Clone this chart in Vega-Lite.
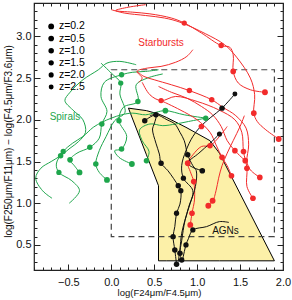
{
"$schema": "https://vega.github.io/schema/vega-lite/v6.json",
"width": 249, "height": 267,
"autosize": {"type": "none"},
"padding": {"left": 34, "top": 3, "right": 9, "bottom": 30},
"background": "white",
"config": {"view": {"stroke": "#222", "strokeWidth": 1.2}, "font": "Liberation Sans", "axis": {"labelFont": "Liberation Sans", "titleFont": "Liberation Sans"}},
"datasets": {
"poly": [{"x":0.20,"lo":2.14,"hi":2.14},{"x":0.41,"lo":1.58,"hi":2.11},{"x":0.55,"lo":1.21,"hi":2.07},{"x":0.5501,"lo":0.31,"hi":2.07},{"x":0.64,"lo":0.31,"hi":2.03},{"x":0.87,"lo":0.31,"hi":1.91},{"x":1.15,"lo":0.31,"hi":1.75},{"x":1.26,"lo":0.31,"hi":1.60},{"x":1.90,"lo":0.31,"hi":0.31}],
"box": [{"x":0,"x2":1.9,"y":0.6,"y2":2.6}],
"tracks": [
{"t":"g1","k":"sp","i":0,"x":-0.69,"y":1.06},{"t":"g1","k":"sp","i":1,"x":-0.80,"y":1.15},{"t":"g1","k":"sp","i":2,"x":-0.88,"y":1.30},{"t":"g1","k":"sp","i":3,"x":-0.82,"y":1.42},{"t":"g1","k":"sp","i":4,"x":-0.70,"y":1.50},{"t":"g1","k":"sp","i":5,"x":-0.59,"y":1.57},{"t":"g1","k":"sp","i":6,"x":-0.48,"y":1.66},{"t":"g1","k":"sp","i":7,"x":-0.38,"y":1.74},{"t":"g1","k":"sp","i":8,"x":-0.30,"y":1.85},{"t":"g1","k":"sp","i":9,"x":-0.33,"y":2.00},{"t":"g1","k":"sp","i":10,"x":-0.45,"y":2.12},{"t":"g1","k":"sp","i":11,"x":-0.54,"y":2.23},{"t":"g1","k":"sp","i":12,"x":-0.48,"y":2.33},{"t":"g1","k":"sp","i":13,"x":-0.33,"y":2.48},{"t":"g1","k":"sp","i":14,"x":-0.15,"y":2.60},{"t":"g1","k":"sp","i":15,"x":-0.05,"y":2.68},{"t":"g1","k":"sp","i":16,"x":0.10,"y":2.70},{"t":"g1","k":"sp","i":17,"x":0.29,"y":2.66},
{"t":"g2","k":"sp","i":0,"x":-0.49,"y":1.00},{"t":"g2","k":"sp","i":1,"x":-0.37,"y":1.15},{"t":"g2","k":"sp","i":2,"x":-0.46,"y":1.27},{"t":"g2","k":"sp","i":3,"x":-0.61,"y":1.37},{"t":"g2","k":"sp","i":4,"x":-0.64,"y":1.47},{"t":"g2","k":"sp","i":5,"x":-0.56,"y":1.62},{"t":"g2","k":"sp","i":6,"x":-0.45,"y":1.72},{"t":"g2","k":"sp","i":7,"x":-0.33,"y":1.80},{"t":"g2","k":"sp","i":8,"x":-0.21,"y":1.91},{"t":"g2","k":"sp","i":9,"x":-0.11,"y":1.97},{"t":"g2","k":"sp","i":10,"x":0.00,"y":2.02},{"t":"g2","k":"sp","i":11,"x":0.12,"y":2.06},{"t":"g2","k":"sp","i":12,"x":0.25,"y":2.08},{"t":"g2","k":"sp","i":13,"x":0.40,"y":2.06},{"t":"g2","k":"sp","i":14,"x":0.52,"y":2.09},{"t":"g2","k":"sp","i":15,"x":0.63,"y":2.11},{"t":"g2","k":"sp","i":16,"x":0.85,"y":2.06},{"t":"g2","k":"sp","i":17,"x":1.10,"y":2.02},
{"t":"g3","k":"sp","i":0,"x":-0.37,"y":1.37},{"t":"g3","k":"sp","i":1,"x":-0.43,"y":1.45},{"t":"g3","k":"sp","i":2,"x":-0.48,"y":1.52},{"t":"g3","k":"sp","i":3,"x":-0.40,"y":1.60},{"t":"g3","k":"sp","i":4,"x":-0.25,"y":1.67},{"t":"g3","k":"sp","i":5,"x":-0.14,"y":1.78},{"t":"g3","k":"sp","i":6,"x":-0.11,"y":1.95},{"t":"g3","k":"sp","i":7,"x":-0.05,"y":2.10},{"t":"g3","k":"sp","i":8,"x":-0.12,"y":2.28},{"t":"g3","k":"sp","i":9,"x":-0.08,"y":2.45},{"t":"g3","k":"sp","i":10,"x":0.12,"y":2.54},{"t":"g3","k":"sp","i":11,"x":0.25,"y":2.57},{"t":"g3","k":"sp","i":12,"x":0.40,"y":2.58},{"t":"g3","k":"sp","i":13,"x":0.55,"y":2.60},
{"t":"g4","k":"sp","i":0,"x":-0.05,"y":1.28},{"t":"g4","k":"sp","i":1,"x":-0.14,"y":1.37},{"t":"g4","k":"sp","i":2,"x":-0.18,"y":1.47},{"t":"g4","k":"sp","i":3,"x":-0.14,"y":1.63},{"t":"g4","k":"sp","i":4,"x":-0.06,"y":1.80},{"t":"g4","k":"sp","i":5,"x":0.04,"y":1.99},{"t":"g4","k":"sp","i":6,"x":0.16,"y":2.09},{"t":"g4","k":"sp","i":7,"x":0.10,"y":2.31},{"t":"g4","k":"sp","i":8,"x":0.11,"y":2.44},{"t":"g4","k":"sp","i":9,"x":0.00,"y":2.56},{"t":"g4","k":"sp","i":10,"x":-0.12,"y":2.68},
{"t":"g5","k":"sp","i":0,"x":0.24,"y":1.47},{"t":"g5","k":"sp","i":1,"x":0.09,"y":1.55},{"t":"g5","k":"sp","i":2,"x":0.04,"y":1.63},{"t":"g5","k":"sp","i":3,"x":0.12,"y":1.65},{"t":"g5","k":"sp","i":4,"x":0.18,"y":1.80},{"t":"g5","k":"sp","i":5,"x":0.09,"y":1.99},{"t":"g5","k":"sp","i":6,"x":0.14,"y":2.15},{"t":"g5","k":"sp","i":7,"x":0.31,"y":2.22},{"t":"g5","k":"sp","i":8,"x":0.29,"y":2.42},{"t":"g5","k":"sp","i":9,"x":0.42,"y":2.50},{"t":"g5","k":"sp","i":10,"x":0.60,"y":2.55},
{"t":"g6","k":"sp","i":0,"x":0.41,"y":1.51},{"t":"g6","k":"sp","i":1,"x":0.44,"y":1.62},{"t":"g6","k":"sp","i":2,"x":0.36,"y":1.75},{"t":"g6","k":"sp","i":3,"x":0.33,"y":1.88},{"t":"g6","k":"sp","i":4,"x":0.45,"y":1.95},{"t":"g6","k":"sp","i":5,"x":0.60,"y":1.93},{"t":"g6","k":"sp","i":6,"x":0.75,"y":1.95},{"t":"g6","k":"sp","i":7,"x":0.90,"y":1.98},{"t":"g6","k":"sp","i":8,"x":1.10,"y":2.02},
{"t":"r1","k":"sb","i":0,"x":1.79,"y":2.33},{"t":"r1","k":"sb","i":1,"x":1.62,"y":2.36},{"t":"r1","k":"sb","i":2,"x":1.48,"y":2.44},{"t":"r1","k":"sb","i":3,"x":1.42,"y":2.58},{"t":"r1","k":"sb","i":4,"x":1.42,"y":2.78},{"t":"r1","k":"sb","i":5,"x":1.38,"y":2.87},{"t":"r1","k":"sb","i":6,"x":1.28,"y":2.89},{"t":"r1","k":"sb","i":7,"x":1.05,"y":3.04},{"t":"r1","k":"sb","i":8,"x":0.85,"y":3.16},{"t":"r1","k":"sb","i":9,"x":0.70,"y":3.22},{"t":"r1","k":"sb","i":10,"x":0.45,"y":3.27},{"t":"r1","k":"sb","i":11,"x":0.25,"y":3.29},{"t":"r1","k":"sb","i":12,"x":0.05,"y":3.31},{"t":"r1","k":"sb","i":13,"x":0.20,"y":3.35},{"t":"r1","k":"sb","i":14,"x":0.40,"y":3.38},
{"t":"r2","k":"sb","i":0,"x":1.95,"y":1.77},{"t":"r2","k":"sb","i":1,"x":1.80,"y":1.88},{"t":"r2","k":"sb","i":2,"x":1.70,"y":1.98},{"t":"r2","k":"sb","i":3,"x":1.66,"y":2.08},{"t":"r2","k":"sb","i":4,"x":1.67,"y":2.30},{"t":"r2","k":"sb","i":5,"x":1.62,"y":2.50},{"t":"r2","k":"sb","i":6,"x":1.46,"y":2.75},{"t":"r2","k":"sb","i":7,"x":1.32,"y":2.90},{"t":"r2","k":"sb","i":8,"x":1.10,"y":3.03},{"t":"r2","k":"sb","i":9,"x":0.80,"y":3.17},{"t":"r2","k":"sb","i":10,"x":0.62,"y":3.22},{"t":"r2","k":"sb","i":11,"x":0.40,"y":3.25},{"t":"r2","k":"sb","i":12,"x":0.15,"y":3.28},{"t":"r2","k":"sb","i":13,"x":0.00,"y":3.32},
{"t":"r3","k":"sb","i":0,"x":0.95,"y":2.84},{"t":"r3","k":"sb","i":1,"x":0.88,"y":2.76},{"t":"r3","k":"sb","i":2,"x":0.75,"y":2.69},{"t":"r3","k":"sb","i":3,"x":0.58,"y":2.64},{"t":"r3","k":"sb","i":4,"x":0.42,"y":2.62},{"t":"r3","k":"sb","i":5,"x":0.30,"y":2.58},{"t":"r3","k":"sb","i":6,"x":0.36,"y":2.50},{"t":"r3","k":"sb","i":7,"x":0.32,"y":2.45},
{"t":"r4","k":"sb","i":0,"x":1.73,"y":1.31},{"t":"r4","k":"sb","i":1,"x":1.62,"y":1.40},{"t":"r4","k":"sb","i":2,"x":1.58,"y":1.50},{"t":"r4","k":"sb","i":3,"x":1.60,"y":1.70},{"t":"r4","k":"sb","i":4,"x":1.57,"y":1.90},{"t":"r4","k":"sb","i":5,"x":1.45,"y":2.05},{"t":"r4","k":"sb","i":6,"x":1.30,"y":2.15},{"t":"r4","k":"sb","i":7,"x":1.17,"y":2.24},{"t":"r4","k":"sb","i":8,"x":0.91,"y":2.35},{"t":"r4","k":"sb","i":9,"x":0.70,"y":2.42},{"t":"r4","k":"sb","i":10,"x":0.50,"y":2.48},{"t":"r4","k":"sb","i":11,"x":0.38,"y":2.52},{"t":"r4","k":"sb","i":12,"x":0.30,"y":2.58},
{"t":"r5","k":"sb","i":0,"x":1.65,"y":1.06},{"t":"r5","k":"sb","i":1,"x":1.58,"y":1.20},{"t":"r5","k":"sb","i":2,"x":1.58,"y":1.42},{"t":"r5","k":"sb","i":3,"x":1.54,"y":1.62},{"t":"r5","k":"sb","i":4,"x":1.52,"y":1.85},{"t":"r5","k":"sb","i":5,"x":1.44,"y":2.00},{"t":"r5","k":"sb","i":6,"x":1.25,"y":2.12},{"t":"r5","k":"sb","i":7,"x":1.00,"y":2.22},{"t":"r5","k":"sb","i":8,"x":0.75,"y":2.28},{"t":"r5","k":"sb","i":9,"x":0.58,"y":2.23},{"t":"r5","k":"sb","i":10,"x":0.45,"y":2.30},{"t":"r5","k":"sb","i":11,"x":0.36,"y":2.45},
{"t":"r6","k":"sb","i":0,"x":1.40,"y":1.33},{"t":"r6","k":"sb","i":1,"x":1.35,"y":1.45},{"t":"r6","k":"sb","i":2,"x":1.29,"y":1.55},{"t":"r6","k":"sb","i":3,"x":1.22,"y":1.70},{"t":"r6","k":"sb","i":4,"x":1.15,"y":1.85},{"t":"r6","k":"sb","i":5,"x":1.00,"y":2.00},{"t":"r6","k":"sb","i":6,"x":0.80,"y":2.12},{"t":"r6","k":"sb","i":7,"x":0.58,"y":2.23},
{"t":"r7","k":"sb","i":0,"x":1.56,"y":1.51},{"t":"r7","k":"sb","i":1,"x":1.44,"y":1.63},{"t":"r7","k":"sb","i":2,"x":1.35,"y":1.75},{"t":"r7","k":"sb","i":3,"x":1.28,"y":1.92},{"t":"r7","k":"sb","i":4,"x":1.18,"y":2.06},{"t":"r7","k":"sb","i":5,"x":1.05,"y":2.16},{"t":"r7","k":"sb","i":6,"x":0.88,"y":2.26},{"t":"r7","k":"sb","i":7,"x":0.70,"y":2.33},{"t":"r7","k":"sb","i":8,"x":0.55,"y":2.40},
{"t":"r8","k":"sb","i":0,"x":0.92,"y":0.74},{"t":"r8","k":"sb","i":1,"x":0.94,"y":0.88},{"t":"r8","k":"sb","i":2,"x":0.97,"y":1.05},{"t":"r8","k":"sb","i":3,"x":0.96,"y":1.26},{"t":"r8","k":"sb","i":4,"x":0.92,"y":1.38},{"t":"r8","k":"sb","i":5,"x":0.89,"y":1.48},{"t":"r8","k":"sb","i":6,"x":0.95,"y":1.58},{"t":"r8","k":"sb","i":7,"x":1.05,"y":1.68},{"t":"r8","k":"sb","i":8,"x":1.15,"y":1.69},{"t":"r8","k":"sb","i":9,"x":1.26,"y":1.80},{"t":"r8","k":"sb","i":10,"x":1.35,"y":1.92},
{"t":"r9","k":"sb","i":0,"x":1.13,"y":0.97},{"t":"r9","k":"sb","i":1,"x":1.18,"y":1.02},{"t":"r9","k":"sb","i":2,"x":1.22,"y":1.15},{"t":"r9","k":"sb","i":3,"x":1.25,"y":1.30},{"t":"r9","k":"sb","i":4,"x":1.29,"y":1.45},{"t":"r9","k":"sb","i":5,"x":1.35,"y":1.60},{"t":"r9","k":"sb","i":6,"x":1.42,"y":1.75},{"t":"r9","k":"sb","i":7,"x":1.50,"y":1.92},{"t":"r9","k":"sb","i":8,"x":1.55,"y":2.05},
{"t":"b1","k":"agn","i":0,"x":0.45,"y":2.05},{"t":"b1","k":"agn","i":1,"x":0.52,"y":2.06},{"t":"b1","k":"agn","i":2,"x":0.50,"y":1.95},{"t":"b1","k":"agn","i":3,"x":0.48,"y":1.89},{"t":"b1","k":"agn","i":4,"x":0.52,"y":1.72},{"t":"b1","k":"agn","i":5,"x":0.56,"y":1.59},{"t":"b1","k":"agn","i":6,"x":0.58,"y":1.48},{"t":"b1","k":"agn","i":7,"x":0.66,"y":1.39},{"t":"b1","k":"agn","i":8,"x":0.78,"y":1.21},{"t":"b1","k":"agn","i":9,"x":0.81,"y":1.15},{"t":"b1","k":"agn","i":10,"x":0.80,"y":0.99},{"t":"b1","k":"agn","i":11,"x":0.76,"y":0.88},{"t":"b1","k":"agn","i":12,"x":0.74,"y":0.72},{"t":"b1","k":"agn","i":13,"x":0.72,"y":0.60},{"t":"b1","k":"agn","i":14,"x":0.74,"y":0.44},{"t":"b1","k":"agn","i":15,"x":0.76,"y":0.27},
{"t":"b2","k":"agn","i":0,"x":0.39,"y":1.99},{"t":"b2","k":"agn","i":1,"x":0.52,"y":2.06},{"t":"b2","k":"agn","i":2,"x":0.65,"y":2.00},{"t":"b2","k":"agn","i":3,"x":0.74,"y":1.95},{"t":"b2","k":"agn","i":4,"x":0.80,"y":1.85},{"t":"b2","k":"agn","i":5,"x":0.85,"y":1.75},{"t":"b2","k":"agn","i":6,"x":0.89,"y":1.58},{"t":"b2","k":"agn","i":7,"x":0.95,"y":1.45},{"t":"b2","k":"agn","i":8,"x":0.99,"y":1.39},{"t":"b2","k":"agn","i":9,"x":0.98,"y":1.20},{"t":"b2","k":"agn","i":10,"x":0.92,"y":1.00},{"t":"b2","k":"agn","i":11,"x":0.86,"y":0.80},{"t":"b2","k":"agn","i":12,"x":0.82,"y":0.55},{"t":"b2","k":"agn","i":13,"x":0.80,"y":0.40},{"t":"b2","k":"agn","i":14,"x":0.82,"y":0.32},
{"t":"b3","k":"agn","i":0,"x":1.44,"y":2.31},{"t":"b3","k":"agn","i":1,"x":1.29,"y":2.14},{"t":"b3","k":"agn","i":2,"x":1.16,"y":2.03},{"t":"b3","k":"agn","i":3,"x":1.04,"y":1.92},{"t":"b3","k":"agn","i":4,"x":0.95,"y":1.80},{"t":"b3","k":"agn","i":5,"x":0.87,"y":1.63},{"t":"b3","k":"agn","i":6,"x":0.82,"y":1.45},{"t":"b3","k":"agn","i":7,"x":0.84,"y":1.30},{"t":"b3","k":"agn","i":8,"x":0.95,"y":1.15},{"t":"b3","k":"agn","i":9,"x":0.90,"y":0.95},{"t":"b3","k":"agn","i":10,"x":0.82,"y":0.64},{"t":"b3","k":"agn","i":11,"x":0.80,"y":0.45},{"t":"b3","k":"agn","i":12,"x":0.78,"y":0.30},
{"t":"b4","k":"agn","i":0,"x":1.26,"y":1.83},{"t":"b4","k":"agn","i":1,"x":1.15,"y":1.72},{"t":"b4","k":"agn","i":2,"x":1.02,"y":1.60},{"t":"b4","k":"agn","i":3,"x":0.89,"y":1.48},{"t":"b4","k":"agn","i":4,"x":0.95,"y":1.43},{"t":"b4","k":"agn","i":5,"x":1.06,"y":1.39},
{"t":"b5","k":"agn","i":0,"x":1.37,"y":0.77},{"t":"b5","k":"agn","i":1,"x":1.26,"y":0.78},{"t":"b5","k":"agn","i":2,"x":1.11,"y":0.72},{"t":"b5","k":"agn","i":3,"x":0.95,"y":0.68},{"t":"b5","k":"agn","i":4,"x":0.90,"y":0.58},{"t":"b5","k":"agn","i":5,"x":0.87,"y":0.50},{"t":"b5","k":"agn","i":6,"x":0.83,"y":0.32}
],
"dots": [
{"k":"sp","z":"1.0","x":-0.59,"y":1.57},{"k":"sp","z":"0.5","x":-0.48,"y":1.52},{"k":"sp","z":"0.2","x":-0.37,"y":1.37},{"k":"sp","z":"1.5","x":-0.61,"y":1.37},{"k":"sp","z":"1.0","x":-0.18,"y":1.47},{"k":"sp","z":"0.2","x":-0.05,"y":1.28},{"k":"sp","z":"0.2","x":0.24,"y":1.47},{"k":"sp","z":"1.0","x":-0.25,"y":1.67},{"k":"sp","z":"1.0","x":0.12,"y":1.65},{"k":"sp","z":"1.0","x":0.09,"y":1.99},{"k":"sp","z":"1.0","x":-0.11,"y":1.95},{"k":"sp","z":"1.0","x":0.41,"y":1.51},{"k":"sp","z":"1.0","x":0.31,"y":2.22},{"k":"sp","z":"1.5","x":0.11,"y":2.44},{"k":"sp","z":"0.5","x":0.63,"y":2.11},{"k":"sp","z":"1.0","x":1.10,"y":2.02},{"k":"sp","z":"1.5","x":-0.56,"y":1.62},{"k":"sp","z":"1.5","x":0.12,"y":2.54},
{"k":"sb","z":"0.2","x":1.79,"y":2.33},{"k":"sb","z":"0.2","x":1.95,"y":1.77},{"k":"sb","z":"0.5","x":1.42,"y":2.58},{"k":"sb","z":"1.0","x":1.28,"y":2.89},{"k":"sb","z":"1.5","x":0.85,"y":3.16},{"k":"sb","z":"0.5","x":1.66,"y":2.08},{"k":"sb","z":"1.0","x":0.91,"y":2.35},{"k":"sb","z":"1.0","x":1.17,"y":2.24},{"k":"sb","z":"1.5","x":0.58,"y":2.23},{"k":"sb","z":"0.5","x":1.54,"y":1.62},{"k":"sb","z":"0.5","x":1.58,"y":1.42},{"k":"sb","z":"0.5","x":1.44,"y":1.63},{"k":"sb","z":"0.5","x":1.73,"y":1.31},{"k":"sb","z":"0.5","x":1.65,"y":1.06},{"k":"sb","z":"0.5","x":1.40,"y":1.33},{"k":"sb","z":"0.5","x":1.29,"y":1.55},{"k":"sb","z":"0.5","x":0.89,"y":1.48},{"k":"sb","z":"0.5","x":0.96,"y":1.26},{"k":"sb","z":"0.2","x":1.18,"y":1.03},{"k":"sb","z":"0.2","x":1.13,"y":0.97},{"k":"sb","z":"0.5","x":0.94,"y":0.88},{"k":"sb","z":"0.2","x":0.92,"y":0.74},{"k":"sb","z":"1.0","x":1.15,"y":1.69},{"k":"sb","z":"0.5","x":1.05,"y":1.92},{"k":"sb","z":"0.5","x":1.56,"y":1.51},
{"k":"agn","z":"1.0","x":0.52,"y":2.06},{"k":"agn","z":"1.0","x":0.39,"y":1.99},{"k":"agn","z":"1.0","x":0.89,"y":1.58},{"k":"agn","z":"1.0","x":0.58,"y":1.48},{"k":"agn","z":"1.0","x":0.78,"y":1.21},{"k":"agn","z":"1.5","x":0.81,"y":1.15},{"k":"agn","z":"0.5","x":1.06,"y":1.39},{"k":"agn","z":"1.0","x":1.29,"y":2.14},{"k":"agn","z":"2.0","x":1.26,"y":1.83},{"k":"agn","z":"1.0","x":0.72,"y":0.60},{"k":"agn","z":"1.5","x":0.76,"y":0.88},{"k":"agn","z":"1.0","x":0.76,"y":0.27},{"k":"agn","z":"1.0","x":0.82,"y":0.32},{"k":"agn","z":"1.0","x":0.80,"y":0.40},{"k":"agn","z":"1.0","x":0.74,"y":0.44},{"k":"agn","z":"1.5","x":0.95,"y":0.68},{"k":"agn","z":"2.5","x":1.44,"y":2.31},{"k":"agn","z":"1.5","x":0.84,"y":1.30},{"k":"agn","z":"1.5","x":0.87,"y":0.50}
],
"legend": [
{"z":"0.2","label":"z=0.2","x":-0.70,"tx":-0.61,"y":3.119},
{"z":"0.5","label":"z=0.5","x":-0.70,"tx":-0.61,"y":2.974},
{"z":"1.0","label":"z=1.0","x":-0.70,"tx":-0.61,"y":2.829},
{"z":"1.5","label":"z=1.5","x":-0.70,"tx":-0.61,"y":2.683},
{"z":"2.0","label":"z=2.0","x":-0.70,"tx":-0.61,"y":2.538},
{"z":"2.5","label":"z=2.5","x":-0.70,"tx":-0.61,"y":2.393}
],
"labels": [
{"k":"sb","text":"Starbursts","x":0.58,"y":2.92},
{"k":"sp","text":"Spirals","x":-0.54,"y":2.03},
{"k":"agn","text":"AGNs","x":1.33,"y":0.67}
]
},
"layer": [
{
"data": {"name": "poly"},
"mark": {"type": "area", "fill": "#fcf0a8", "stroke": "#000000", "strokeWidth": 1, "fillOpacity": 1},
"encoding": {
"x": {"field": "x", "type": "quantitative", "scale": {"domain": [-0.9, 2.0], "nice": false, "zero": false},
 "axis": {"orient": "bottom", "values": [-0.9,-0.8,-0.7,-0.6,-0.5,-0.4,-0.3,-0.2,-0.1,0,0.1,0.2,0.3,0.4,0.5,0.6,0.7,0.8,0.9,1.0,1.1,1.2,1.3,1.4,1.5,1.6,1.7,1.8,1.9,2.0],
 "labelExpr": "abs(datum.value*2-round(datum.value*2))<0.001 ? format(datum.value,'.1f') : ''",
 "tickSize": {"condition": {"test": "abs(datum.value*2-round(datum.value*2))<0.001", "value": -6}, "value": -3},
 "tickColor": "#222", "tickWidth": 1, "domain": false, "grid": false, "labelFontSize": 11, "labelColor": "#111", "labelPadding": 12, "labelFlush": false, "labelOverlap": false,
 "title": "log(F24μm/F4.5μm)", "titleFontSize": 9.5, "titleFontWeight": "normal", "titleColor": "#111", "titleY": 22, "titleBaseline": "middle", "titleX": 125, "titleAlign": "center"}},
"y": {"field": "lo", "type": "quantitative", "scale": {"domain": [0.2, 3.4], "nice": false, "zero": false},
 "axis": {"orient": "left", "values": [0.2,0.3,0.4,0.5,0.6,0.7,0.8,0.9,1.0,1.1,1.2,1.3,1.4,1.5,1.6,1.7,1.8,1.9,2.0,2.1,2.2,2.3,2.4,2.5,2.6,2.7,2.8,2.9,3.0,3.1,3.2,3.3,3.4],
 "labelExpr": "abs(datum.value*2-round(datum.value*2))<0.001 ? format(datum.value,'.1f') : ''",
 "tickSize": {"condition": {"test": "abs(datum.value*2-round(datum.value*2))<0.001", "value": -6}, "value": -3},
 "tickColor": "#222", "tickWidth": 1, "domain": false, "grid": false, "labelFontSize": 11, "labelColor": "#111", "labelPadding": 9, "labelFlush": false, "labelOverlap": false,
 "title": "log(F250μm/F11μm) − log(F4.5μm/F3.6μm)", "titleFontSize": 10, "titleFontWeight": "normal", "titleColor": "#111", "titleX": -26, "titleY": 138, "titleAlign": "center", "titleBaseline": "middle", "titleAngle": 270}},
"y2": {"field": "hi"}
}
},
{
"data": {"name": "box"},
"mark": {"type": "rect", "filled": false, "stroke": "#444", "strokeWidth": 1.2, "strokeDash": [6, 4]},
"encoding": {
"x": {"field": "x", "type": "quantitative", "scale": {"domain": [-0.9, 2.0], "nice": false, "zero": false},
 "axis": {"orient": "top", "values": [-0.9,-0.8,-0.7,-0.6,-0.5,-0.4,-0.3,-0.2,-0.1,0,0.1,0.2,0.3,0.4,0.5,0.6,0.7,0.8,0.9,1.0,1.1,1.2,1.3,1.4,1.5,1.6,1.7,1.8,1.9,2.0],
 "labels": false, "title": null, "domain": false, "grid": false, "tickColor": "#222",
 "tickSize": {"condition": {"test": "abs(datum.value*2-round(datum.value*2))<0.001", "value": -6}, "value": -3}}},
"x2": {"field": "x2"},
"y": {"field": "y", "type": "quantitative", "scale": {"domain": [0.2, 3.4], "nice": false, "zero": false},
 "axis": {"orient": "right", "values": [0.2,0.3,0.4,0.5,0.6,0.7,0.8,0.9,1.0,1.1,1.2,1.3,1.4,1.5,1.6,1.7,1.8,1.9,2.0,2.1,2.2,2.3,2.4,2.5,2.6,2.7,2.8,2.9,3.0,3.1,3.2,3.3,3.4],
 "labels": false, "title": null, "domain": false, "grid": false, "tickColor": "#222",
 "tickSize": {"condition": {"test": "abs(datum.value*2-round(datum.value*2))<0.001", "value": -6}, "value": -3}}},
"y2": {"field": "y2"}
}
},
{
"data": {"name": "tracks"},
"mark": {"type": "line", "strokeWidth": 1, "interpolate": "catmull-rom", "clip": true},
"encoding": {
"x": {"field": "x", "type": "quantitative", "scale": {"domain": [-0.9, 2.0], "nice": false, "zero": false}, "axis": null},
"y": {"field": "y", "type": "quantitative", "scale": {"domain": [0.2, 3.4], "nice": false, "zero": false}, "axis": null},
"detail": {"field": "t"},
"order": {"field": "i", "type": "quantitative"},
"color": {"field": "k", "type": "nominal", "scale": {"domain": ["agn", "sb", "sp"], "range": ["#111111", "#f22b2b", "#1ea64c"]}, "legend": null}
}
},
{
"data": {"name": "dots"},
"mark": {"type": "point", "filled": true, "opacity": 1, "clip": true},
"encoding": {
"x": {"field": "x", "type": "quantitative", "scale": {"domain": [-0.9, 2.0], "nice": false, "zero": false}, "axis": null},
"y": {"field": "y", "type": "quantitative", "scale": {"domain": [0.2, 3.4], "nice": false, "zero": false}, "axis": null},
"color": {"field": "k", "type": "nominal", "scale": {"domain": ["agn", "sb", "sp"], "range": ["#111111", "#f22b2b", "#1ea64c"]}, "legend": null},
"size": {"field": "z", "type": "ordinal", "scale": {"domain": ["0.2","0.5","1.0","1.5","2.0","2.5"], "range": [34, 24, 15, 8, 4, 1.5]}, "legend": null}
}
},
{
"data": {"name": "legend"},
"mark": {"type": "point", "filled": true, "opacity": 1, "color": "#000"},
"encoding": {
"x": {"field": "x", "type": "quantitative", "scale": {"domain": [-0.9, 2.0], "nice": false, "zero": false}, "axis": null},
"y": {"field": "y", "type": "quantitative", "scale": {"domain": [0.2, 3.4], "nice": false, "zero": false}, "axis": null},
"size": {"field": "z", "type": "ordinal", "scale": {"domain": ["0.2","0.5","1.0","1.5","2.0","2.5"], "range": [34, 24, 15, 8, 4, 1.5]}, "legend": null}
}
},
{
"data": {"name": "legend"},
"mark": {"type": "text", "align": "left", "baseline": "middle", "fontSize": 10.5, "color": "#000", "font": "Liberation Sans"},
"encoding": {
"x": {"field": "tx", "type": "quantitative", "scale": {"domain": [-0.9, 2.0], "nice": false, "zero": false}, "axis": null},
"y": {"field": "y", "type": "quantitative", "scale": {"domain": [0.2, 3.4], "nice": false, "zero": false}, "axis": null},
"text": {"field": "label"}
}
},
{
"data": {"name": "labels"},
"mark": {"type": "text", "align": "center", "baseline": "middle", "fontSize": 10, "font": "Liberation Sans"},
"encoding": {
"x": {"field": "x", "type": "quantitative", "scale": {"domain": [-0.9, 2.0], "nice": false, "zero": false}, "axis": null},
"y": {"field": "y", "type": "quantitative", "scale": {"domain": [0.2, 3.4], "nice": false, "zero": false}, "axis": null},
"text": {"field": "text"},
"color": {"field": "k", "type": "nominal", "scale": {"domain": ["agn", "sb", "sp"], "range": ["#111111", "#f22b2b", "#1ea64c"]}, "legend": null}
}
}
],
"resolve": {"axis": {"x": "independent", "y": "independent"}}
}
